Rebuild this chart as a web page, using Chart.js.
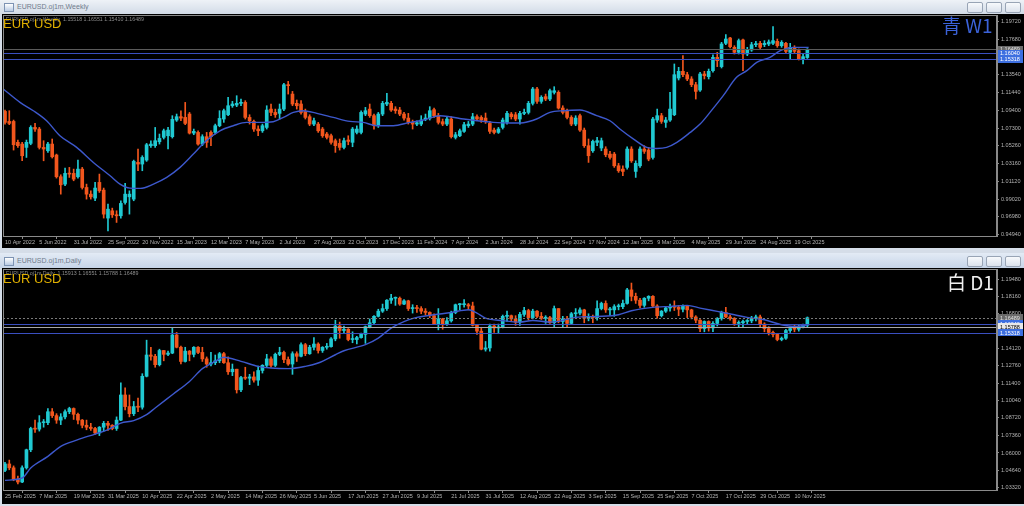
<!DOCTYPE html>
<html>
<head>
<meta charset="utf-8">
<script src="https://cdn.jsdelivr.net/npm/chart.js@4.4.1/dist/chart.umd.min.js"></script>
<style>
html, body { margin: 0; padding: 0; width: 1024px; height: 506px; overflow: hidden; background: #d5dde8; font-family: "Liberation Sans", Arial, sans-serif; }
.tbar { position: absolute; left: 0; width: 1024px; background: linear-gradient(#eef2f7, #d2dbe7); }
.tbar .ttl { position: absolute; left: 17px; font-size: 7px; color: #6f7b8c; }
.tbar .ico { position: absolute; left: 4px; width: 8px; height: 7px; border: 1px solid #7d93b3; background: linear-gradient(#ffffff, #b9cbe4); }
.btn { position: absolute; width: 14px; height: 9px; border: 1px solid #98a4b5; border-radius: 2px; background: linear-gradient(#f7f9fc, #dbe2ec); }
canvas { position: absolute; left: 2px; background: #000; }
.txt { position: absolute; white-space: nowrap; }
.hdr { font-size: 5.3px; color: #8c8c8c; }
.sym { font-size: 13px; color: #e0b000; }
.tf { font-size: 19px; font-family: "Noto Sans CJK JP", "Liberation Sans", sans-serif; }
</style>
</head>
<body>

<div class="tbar" style="top:0;height:14px">
  <div class="ico" style="top:3px"></div>
  <div class="ttl" style="top:3px">EURUSD.oj1m,Weekly</div>
  <div class="btn" style="left:967px;top:2px"></div>
  <div class="btn" style="left:986px;top:2px"></div>
  <div class="btn" style="left:1005px;top:2px"></div>
</div>
<canvas id="wk" width="1022" height="234" style="top:14px"></canvas>

<div class="tbar" style="top:253px;height:15px;background:linear-gradient(#e3ebf5,#c6d4e8)">
  <div class="ico" style="top:4px"></div>
  <div class="ttl" style="top:4px">EURUSD.oj1m,Daily</div>
  <div class="btn" style="left:967px;top:3px"></div>
  <div class="btn" style="left:986px;top:3px"></div>
  <div class="btn" style="left:1005px;top:3px"></div>
</div>
<canvas id="d1" width="1022" height="236" style="top:268px"></canvas>

<div class="txt hdr" style="left:6px;top:16px">EURUSD.oj1m,Weekly&nbsp;&nbsp;1.15518 1.16551 1.15410 1.16489</div>
<div class="txt sym" style="left:3px;top:16px">EUR USD</div>
<div class="txt tf" style="left:942px;top:11px;color:#3b62d8">青 W1</div>

<div class="txt hdr" style="left:6px;top:270px">EURUSD.oj1m,Daily&nbsp;&nbsp;1.15913 1.16551 1.15788 1.16489</div>
<div class="txt sym" style="left:3px;top:271px">EUR USD</div>
<div class="txt tf" style="left:947px;top:268px;color:#f0f0f0">白 D1</div>

<script>
/* -----------------------------
   WEEKLY DATA
----------------------------- */
const wkDates = ["10 Apr 2022", "5 Jun 2022", "31 Jul 2022", "25 Sep 2022", "20 Nov 2022", "15 Jan 2023",
    "12 Mar 2023", "7 May 2023", "2 Jul 2023", "27 Aug 2023", "22 Oct 2023", "17 Dec 2023",
    "11 Feb 2024", "7 Apr 2024", "2 Jun 2024", "28 Jul 2024", "22 Sep 2024", "17 Nov 2024",
    "12 Jan 2025", "9 Mar 2025", "4 May 2025", "29 Jun 2025", "24 Aug 2025", "19 Oct 2025"];
const wkDateIdx = [0, 8, 16, 24, 32, 40, 48, 56, 64, 72, 80, 88, 96, 104, 112, 120, 128, 136, 144, 152, 160, 168, 176, 184];

const wkOpen = [1.0924, 1.0807, 1.0807, 1.0563, 1.0543, 1.0504, 1.0551, 1.0737, 1.0718, 1.0504,
    1.0465, 1.0543, 1.0415, 1.0162, 1.0076, 1.0201, 1.0201, 1.0162, 1.0251, 1.0037,
    0.9959, 0.9913, 1.0096, 1.0006, 0.9680, 0.9765, 0.9718, 0.9707, 0.9862, 0.9928,
    0.9901, 1.0329, 1.0310, 1.0356, 1.0524, 1.0524, 1.0570, 1.0621, 1.0640, 1.0629,
    1.0823, 1.0862, 1.0854, 1.0893, 1.0671, 1.0679, 1.0543, 1.0629, 1.0679, 1.0679,
    1.0757, 1.0835, 1.0885, 1.0990, 1.0998, 1.1018, 1.1029, 1.0854, 1.0807, 1.0718,
    1.0698, 1.0737, 1.0951, 1.0912, 1.0901, 1.0951, 1.1235, 1.1126, 1.1018, 1.1010,
    1.0924, 1.0862, 1.0776, 1.0776, 1.0718, 1.0660, 1.0640, 1.0582, 1.0551, 1.0504,
    1.0590, 1.0563, 1.0679, 1.0679, 1.0893, 1.0951, 1.0874, 1.0757, 1.0893, 1.1010,
    1.1018, 1.0951, 1.0940, 1.0893, 1.0846, 1.0796, 1.0776, 1.0776, 1.0835, 1.0846,
    1.0944, 1.0874, 1.0804, 1.0776, 1.0835, 1.0621, 1.0640, 1.0691, 1.0757, 1.0776,
    1.0862, 1.0854, 1.0846, 1.0784, 1.0706, 1.0679, 1.0737, 1.0796, 1.0893, 1.0885,
    1.0835, 1.0901, 1.0912, 1.1018, 1.1185, 1.1041, 1.1096, 1.1068, 1.1146, 1.1146,
    1.0963, 1.0932, 1.0854, 1.0776, 1.0874, 1.0706, 1.0524, 1.0465, 1.0563, 1.0497,
    1.0485, 1.0426, 1.0426, 1.0290, 1.0251, 1.0271, 1.0485, 1.0224, 1.0290, 1.0485,
    1.0473, 1.0387, 1.0823, 1.0874, 1.0796, 1.0823, 1.0885, 1.1313, 1.1391, 1.1352,
    1.1302, 1.1235, 1.1173, 1.1360, 1.1329, 1.1399, 1.1554, 1.1446, 1.1718, 1.1780,
    1.1671, 1.1613, 1.1757, 1.1593, 1.1640, 1.1702, 1.1718, 1.1702, 1.1710, 1.1718,
    1.1741, 1.1690, 1.1718, 1.1613, 1.1671, 1.1632, 1.1535, 1.1552];
const wkHigh = [1.0940, 1.0932, 1.0823, 1.0590, 1.0563, 1.0590, 1.0757, 1.0784, 1.0737, 1.0582,
    1.0563, 1.0602, 1.0426, 1.0185, 1.0263, 1.0271, 1.0251, 1.0356, 1.0271, 1.0076,
    0.9998, 1.0096, 1.0193, 1.0030, 0.9843, 0.9796, 0.9765, 0.9882, 1.0084, 0.9998,
    1.0356, 1.0485, 1.0407, 1.0551, 1.0582, 1.0737, 1.0660, 1.0718, 1.0737, 1.0874,
    1.0893, 1.0932, 1.1029, 1.0912, 1.0718, 1.0698, 1.0652, 1.0679, 1.0698, 1.0776,
    1.0932, 1.0951, 1.1088, 1.1041, 1.1107, 1.1068, 1.1049, 1.0885, 1.0823, 1.0757,
    1.0776, 1.0990, 1.1010, 1.0951, 1.1010, 1.1251, 1.1274, 1.1157, 1.1057, 1.1049,
    1.0951, 1.0885, 1.0846, 1.0796, 1.0737, 1.0679, 1.0660, 1.0602, 1.0602, 1.0613,
    1.0640, 1.0737, 1.0757, 1.0932, 1.0971, 1.1010, 1.0893, 1.0912, 1.1041, 1.1134,
    1.1041, 1.0979, 1.0971, 1.0912, 1.0901, 1.0823, 1.0815, 1.0874, 1.0893, 1.0979,
    1.0963, 1.0901, 1.0835, 1.0854, 1.0862, 1.0679, 1.0718, 1.0796, 1.0807, 1.0901,
    1.0885, 1.0874, 1.0905, 1.0807, 1.0730, 1.0737, 1.0846, 1.0924, 1.0912, 1.0912,
    1.0924, 1.0951, 1.1041, 1.1204, 1.1204, 1.1107, 1.1126, 1.1185, 1.1212, 1.1165,
    1.0990, 1.0951, 1.0874, 1.0874, 1.0893, 1.0730, 1.0602, 1.0590, 1.0621, 1.0613,
    1.0512, 1.0458, 1.0446, 1.0318, 1.0290, 1.0512, 1.0512, 1.0348, 1.0512, 1.0524,
    1.0504, 1.0854, 1.0951, 1.0901, 1.0854, 1.1146, 1.1477, 1.1438, 1.1574, 1.1380,
    1.1329, 1.1263, 1.1380, 1.1391, 1.1418, 1.1585, 1.1613, 1.1729, 1.1819, 1.1788,
    1.1690, 1.1768, 1.1768, 1.1671, 1.1729, 1.1741, 1.1741, 1.1749, 1.1757, 1.1912,
    1.1768, 1.1749, 1.1729, 1.1718, 1.1690, 1.1652, 1.1593, 1.1655];
const wkLow = [1.0776, 1.0769, 1.0473, 1.0504, 1.0348, 1.0387, 1.0535, 1.0691, 1.0485, 1.0348,
    1.0446, 1.0380, 1.0146, 0.9959, 1.0057, 1.0154, 1.0115, 1.0146, 1.0018, 0.9901,
    0.9901, 0.9882, 0.9979, 0.9680, 0.9531, 0.9687, 0.9629, 0.9680, 0.9843, 0.9726,
    0.9882, 1.0232, 1.0232, 1.0341, 1.0504, 1.0504, 1.0543, 1.0602, 1.0485, 1.0613,
    1.0807, 1.0815, 1.0769, 1.0660, 1.0652, 1.0531, 1.0524, 1.0504, 1.0524, 1.0660,
    1.0745, 1.0796, 1.0874, 1.0971, 1.0979, 1.0990, 1.0835, 1.0776, 1.0691, 1.0640,
    1.0679, 1.0718, 1.0874, 1.0854, 1.0835, 1.0932, 1.1126, 1.0990, 1.0951, 1.0893,
    1.0835, 1.0757, 1.0757, 1.0679, 1.0621, 1.0602, 1.0543, 1.0446, 1.0473, 1.0485,
    1.0535, 1.0512, 1.0660, 1.0660, 1.0874, 1.0854, 1.0718, 1.0737, 1.0874, 1.0990,
    1.0924, 1.0901, 1.0874, 1.0823, 1.0776, 1.0718, 1.0757, 1.0757, 1.0815, 1.0823,
    1.0854, 1.0776, 1.0757, 1.0757, 1.0613, 1.0602, 1.0629, 1.0679, 1.0737, 1.0757,
    1.0815, 1.0796, 1.0784, 1.0667, 1.0660, 1.0667, 1.0718, 1.0776, 1.0835, 1.0815,
    1.0776, 1.0885, 1.0893, 1.0998, 1.1018, 1.1018, 1.1049, 1.1049, 1.1126, 1.0951,
    1.0893, 1.0835, 1.0757, 1.0757, 1.0691, 1.0504, 1.0329, 1.0446, 1.0524, 1.0465,
    1.0395, 1.0368, 1.0271, 1.0213, 1.0174, 1.0251, 1.0329, 1.0154, 1.0271, 1.0434,
    1.0348, 1.0368, 1.0796, 1.0784, 1.0737, 1.0807, 1.0874, 1.1290, 1.1329, 1.1282,
    1.1212, 1.1068, 1.1157, 1.1302, 1.1302, 1.1380, 1.1446, 1.1430, 1.1702, 1.1663,
    1.1593, 1.1593, 1.1399, 1.1574, 1.1624, 1.1679, 1.1652, 1.1679, 1.1690, 1.1702,
    1.1671, 1.1671, 1.1601, 1.1535, 1.1601, 1.1523, 1.1477, 1.1541];
const wkClose = [1.0796, 1.0784, 1.0535, 1.0524, 1.0407, 1.0563, 1.0737, 1.0718, 1.0504, 1.0485,
    1.0543, 1.0395, 1.0162, 1.0068, 1.0201, 1.0193, 1.0134, 1.0251, 1.0037, 0.9959,
    0.9928, 1.0030, 0.9998, 0.9726, 0.9784, 0.9718, 0.9707, 0.9851, 0.9959, 0.9959,
    1.0341, 1.0310, 1.0387, 1.0535, 1.0543, 1.0582, 1.0609, 1.0698, 1.0706, 1.0831,
    1.0862, 1.0846, 1.0784, 1.0671, 1.0691, 1.0543, 1.0629, 1.0563, 1.0629, 1.0757,
    1.0842, 1.0932, 1.0990, 1.1010, 1.1018, 1.1025, 1.0854, 1.0815, 1.0718, 1.0698,
    1.0757, 1.0940, 1.0912, 1.0885, 1.0951, 1.1235, 1.1224, 1.1010, 1.0990, 1.0912,
    1.0854, 1.0776, 1.0815, 1.0698, 1.0640, 1.0621, 1.0563, 1.0524, 1.0504, 1.0582,
    1.0574, 1.0718, 1.0718, 1.0912, 1.0932, 1.0874, 1.0757, 1.0893, 1.1018, 1.1029,
    1.0940, 1.0932, 1.0893, 1.0846, 1.0796, 1.0776, 1.0792, 1.0823, 1.0846, 1.0932,
    1.0874, 1.0796, 1.0776, 1.0835, 1.0629, 1.0652, 1.0698, 1.0769, 1.0776, 1.0862,
    1.0835, 1.0823, 1.0807, 1.0691, 1.0679, 1.0718, 1.0823, 1.0901, 1.0862, 1.0835,
    1.0901, 1.0912, 1.1018, 1.1185, 1.1041, 1.1088, 1.1068, 1.1165, 1.1165, 1.0963,
    1.0912, 1.0854, 1.0776, 1.0846, 1.0706, 1.0524, 1.0407, 1.0574, 1.0582, 1.0582,
    1.0418, 1.0387, 1.0290, 1.0232, 1.0224, 1.0485, 1.0348, 1.0318, 1.0485, 1.0458,
    1.0368, 1.0835, 1.0874, 1.0807, 1.0823, 1.0951, 1.1352, 1.1391, 1.1352, 1.1302,
    1.1235, 1.1157, 1.1360, 1.1340, 1.1391, 1.1554, 1.1515, 1.1710, 1.1768, 1.1679,
    1.1613, 1.1749, 1.1593, 1.1640, 1.1702, 1.1710, 1.1671, 1.1718, 1.1733, 1.1749,
    1.1690, 1.1729, 1.1624, 1.1671, 1.1624, 1.1535, 1.1562, 1.1649];

const wkMaIdx = [-0.4, 3.5, 6.6, 9.7, 12.8, 16.7, 20.6, 24.5, 26.8, 29.1, 31.5, 34.6, 37.7, 40.8, 43.9,
    46.9, 50.1, 53.2, 56.3, 59.4, 62.5, 64.9, 67.2, 69.5, 72.7, 76.5, 80.4, 83.5, 86.6, 90.5, 94.4,
    97.5, 101.4, 103.7, 106.9, 110.0, 113.8, 117.7, 120.8, 123.9, 127.0, 130.1, 134.0, 137.9, 141.0,
    143.3, 146.5, 149.6, 151.9, 154.2, 156.6, 159.7, 162.0, 164.3, 167.4, 170.5, 172.9, 175.2, 178.3,
    180.7, 183.8, 187.3];
const wkMaVal = [1.1185, 1.1029, 1.0932, 1.0815, 1.0640, 1.0504, 1.0329, 1.0173, 1.0076, 1.0029, 1.0026,
    1.0076, 1.0154, 1.0271, 1.0426, 1.0582, 1.0698, 1.0757, 1.0796, 1.0796, 1.0804, 1.0854, 1.0912,
    1.0932, 1.0901, 1.0854, 1.0807, 1.0796, 1.0757, 1.0757, 1.0796,
    1.0823, 1.0874, 1.0862, 1.0835, 1.0815, 1.0796, 1.0788, 1.0792, 1.0835, 1.0912, 1.0932, 1.0940,
    1.0874, 1.0815, 1.0718, 1.0601, 1.0504, 1.0492, 1.0504, 1.0563, 1.0679, 1.0776, 1.0912, 1.1107,
    1.1321, 1.1399, 1.1496, 1.1554, 1.1632, 1.1671, 1.1671];

const wkTicks = [1.1972, 1.1768, 1.1558, 1.1354, 1.1144, 1.0940, 1.0730, 1.0526, 1.0316, 1.0112, 0.9902, 0.9698, 0.9494];
const wkLevels = [1.16489, 1.16040, 1.15318];

/* -----------------------------
   DAILY DATA
----------------------------- */
const d1Dates = ["25 Feb 2025", "7 Mar 2025", "19 Mar 2025", "31 Mar 2025", "10 Apr 2025", "22 Apr 2025",
    "2 May 2025", "14 May 2025", "26 May 2025", "5 Jun 2025", "17 Jun 2025", "27 Jun 2025",
    "9 Jul 2025", "21 Jul 2025", "31 Jul 2025", "12 Aug 2025", "22 Aug 2025", "3 Sep 2025",
    "15 Sep 2025", "25 Sep 2025", "7 Oct 2025", "17 Oct 2025", "29 Oct 2025", "10 Nov 2025"];
const d1DateIdx = [0, 8, 16, 24, 32, 40, 48, 56, 64, 72, 80, 88, 96, 104, 112, 120, 128, 136, 144, 152, 160, 168, 176, 184];

const d1Open = [1.0465, 1.0515, 1.0485, 1.0397, 1.0375, 1.0485, 1.0625, 1.0790, 1.0785, 1.0835,
    1.0835, 1.0920, 1.0890, 1.0855, 1.0880, 1.0920, 1.0945, 1.0900, 1.0855, 1.0815,
    1.0800, 1.0790, 1.0755, 1.0800, 1.0830, 1.0815, 1.0790, 1.0855, 1.1050, 1.0960,
    1.0905, 1.0960, 1.0955, 1.1195, 1.1360, 1.1350, 1.1285, 1.1395, 1.1365, 1.1375,
    1.1515, 1.1420, 1.1310, 1.1390, 1.1365, 1.1420, 1.1380, 1.1330, 1.1290, 1.1300,
    1.1315, 1.1370, 1.1300, 1.1230, 1.1250, 1.1090, 1.1185, 1.1180, 1.1190, 1.1165,
    1.1240, 1.1280, 1.1330, 1.1280, 1.1365, 1.1380, 1.1325, 1.1290, 1.1370, 1.1350,
    1.1440, 1.1370, 1.1420, 1.1445, 1.1395, 1.1420, 1.1425, 1.1485, 1.1585, 1.1550,
    1.1560, 1.1480, 1.1480, 1.1495, 1.1520, 1.1580, 1.1610, 1.1660, 1.1700, 1.1720,
    1.1785, 1.1800, 1.1800, 1.1755, 1.1780, 1.1720, 1.1725, 1.1720, 1.1700, 1.1690,
    1.1665, 1.1600, 1.1640, 1.1595, 1.1625, 1.1690, 1.1750, 1.1750, 1.1750, 1.1740,
    1.1590, 1.1545, 1.1405, 1.1415, 1.1585, 1.1570, 1.1575, 1.1660, 1.1665, 1.1640,
    1.1615, 1.1675, 1.1705, 1.1650, 1.1700, 1.1660, 1.1645, 1.1650, 1.1610, 1.1720,
    1.1620, 1.1640, 1.1605, 1.1680, 1.1685, 1.1710, 1.1645, 1.1660, 1.1650, 1.1720,
    1.1760, 1.1710, 1.1710, 1.1735, 1.1735, 1.1760, 1.1865, 1.1815, 1.1785, 1.1745,
    1.1800, 1.1815, 1.1740, 1.1665, 1.1700, 1.1725, 1.1735, 1.1730, 1.1715, 1.1740,
    1.1710, 1.1655, 1.1630, 1.1565, 1.1620, 1.1570, 1.1605, 1.1645, 1.1690, 1.1655,
    1.1645, 1.1605, 1.1610, 1.1620, 1.1625, 1.1645, 1.1655, 1.1600, 1.1565, 1.1535,
    1.1520, 1.1480, 1.1490, 1.1550, 1.1565, 1.1560, 1.1580, 1.1591];
const d1High = [1.0528, 1.0545, 1.0500, 1.0420, 1.0500, 1.0630, 1.0800, 1.0855, 1.0890, 1.0860,
    1.0945, 1.0945, 1.0905, 1.0905, 1.0935, 1.0955, 1.0950, 1.0910, 1.0860, 1.0855,
    1.0830, 1.0800, 1.0805, 1.0845, 1.0845, 1.0820, 1.0880, 1.1145, 1.1105, 1.1050,
    1.1000, 1.1025, 1.1215, 1.1475, 1.1420, 1.1365, 1.1405, 1.1395, 1.1390, 1.1573,
    1.1535, 1.1430, 1.1420, 1.1395, 1.1425, 1.1425, 1.1420, 1.1345, 1.1380, 1.1360,
    1.1380, 1.1380, 1.1345, 1.1290, 1.1250, 1.1195, 1.1265, 1.1210, 1.1230, 1.1275,
    1.1285, 1.1365, 1.1345, 1.1375, 1.1420, 1.1390, 1.1345, 1.1385, 1.1385, 1.1455,
    1.1450, 1.1435, 1.1495, 1.1455, 1.1425, 1.1450, 1.1495, 1.1630, 1.1615, 1.1585,
    1.1565, 1.1540, 1.1505, 1.1530, 1.1585, 1.1640, 1.1665, 1.1715, 1.1755, 1.1790,
    1.1830, 1.1810, 1.1810, 1.1790, 1.1785, 1.1750, 1.1745, 1.1735, 1.1720, 1.1695,
    1.1680, 1.1720, 1.1645, 1.1650, 1.1700, 1.1755, 1.1760, 1.1790, 1.1760, 1.1770,
    1.1595, 1.1575, 1.1465, 1.1600, 1.1600, 1.1600, 1.1670, 1.1700, 1.1670, 1.1665,
    1.1690, 1.1730, 1.1715, 1.1715, 1.1705, 1.1690, 1.1665, 1.1660, 1.1740, 1.1720,
    1.1660, 1.1660, 1.1690, 1.1720, 1.1725, 1.1715, 1.1680, 1.1670, 1.1780, 1.1770,
    1.1780, 1.1730, 1.1750, 1.1755, 1.1785, 1.1878, 1.1918, 1.1840, 1.1800, 1.1805,
    1.1820, 1.1820, 1.1750, 1.1705, 1.1735, 1.1755, 1.1780, 1.1745, 1.1750, 1.1745,
    1.1715, 1.1665, 1.1635, 1.1625, 1.1625, 1.1620, 1.1650, 1.1700, 1.1730, 1.1670,
    1.1650, 1.1625, 1.1630, 1.1635, 1.1660, 1.1670, 1.1670, 1.1610, 1.1580, 1.1545,
    1.1525, 1.1500, 1.1560, 1.1580, 1.1590, 1.1590, 1.1600, 1.1655];
const d1Low = [1.0455, 1.0470, 1.0385, 1.0360, 1.0370, 1.0475, 1.0610, 1.0760, 1.0770, 1.0800,
    1.0820, 1.0875, 1.0830, 1.0820, 1.0865, 1.0905, 1.0860, 1.0825, 1.0795, 1.0780,
    1.0775, 1.0745, 1.0735, 1.0770, 1.0775, 1.0780, 1.0775, 1.0850, 1.0935, 1.0880,
    1.0890, 1.0920, 1.0940, 1.1190, 1.1320, 1.1265, 1.1275, 1.1315, 1.1355, 1.1370,
    1.1415, 1.1290, 1.1305, 1.1315, 1.1345, 1.1370, 1.1310, 1.1265, 1.1275, 1.1285,
    1.1300, 1.1295, 1.1210, 1.1200, 1.1065, 1.1075, 1.1170, 1.1130, 1.1150, 1.1125,
    1.1220, 1.1270, 1.1265, 1.1270, 1.1355, 1.1300, 1.1280, 1.1210, 1.1310, 1.1345,
    1.1355, 1.1365, 1.1400, 1.1375, 1.1380, 1.1405, 1.1420, 1.1470, 1.1490, 1.1530,
    1.1470, 1.1455, 1.1445, 1.1490, 1.1450, 1.1570, 1.1595, 1.1655, 1.1690, 1.1705,
    1.1760, 1.1745, 1.1745, 1.1750, 1.1705, 1.1685, 1.1690, 1.1680, 1.1670, 1.1650,
    1.1595, 1.1555, 1.1560, 1.1590, 1.1615, 1.1680, 1.1710, 1.1730, 1.1710, 1.1585,
    1.1520, 1.1400, 1.1390, 1.1390, 1.1535, 1.1525, 1.1570, 1.1620, 1.1620, 1.1590,
    1.1590, 1.1660, 1.1630, 1.1640, 1.1650, 1.1635, 1.1605, 1.1605, 1.1580, 1.1610,
    1.1575, 1.1575, 1.1595, 1.1655, 1.1670, 1.1610, 1.1625, 1.1610, 1.1630, 1.1710,
    1.1690, 1.1665, 1.1660, 1.1710, 1.1720, 1.1755, 1.1780, 1.1760, 1.1725, 1.1730,
    1.1780, 1.1730, 1.1645, 1.1655, 1.1690, 1.1700, 1.1705, 1.1665, 1.1695, 1.1650,
    1.1640, 1.1610, 1.1540, 1.1540, 1.1545, 1.1540, 1.1585, 1.1630, 1.1650, 1.1630,
    1.1590, 1.1575, 1.1580, 1.1600, 1.1610, 1.1625, 1.1580, 1.1540, 1.1515, 1.1500,
    1.1470, 1.1470, 1.1480, 1.1535, 1.1540, 1.1545, 1.1570, 1.1579];
const d1Close = [1.0515, 1.0485, 1.0397, 1.0375, 1.0485, 1.0625, 1.0790, 1.0785, 1.0835, 1.0835,
    1.0920, 1.0890, 1.0855, 1.0880, 1.0920, 1.0945, 1.0900, 1.0855, 1.0815, 1.0800,
    1.0790, 1.0755, 1.0800, 1.0830, 1.0815, 1.0790, 1.0855, 1.1050, 1.0960, 1.0905,
    1.0960, 1.0955, 1.1195, 1.1360, 1.1350, 1.1285, 1.1395, 1.1365, 1.1375, 1.1515,
    1.1420, 1.1310, 1.1390, 1.1365, 1.1420, 1.1380, 1.1330, 1.1290, 1.1300, 1.1315,
    1.1370, 1.1300, 1.1230, 1.1250, 1.1090, 1.1185, 1.1180, 1.1190, 1.1165, 1.1240,
    1.1280, 1.1330, 1.1280, 1.1365, 1.1380, 1.1325, 1.1290, 1.1370, 1.1350, 1.1440,
    1.1370, 1.1420, 1.1445, 1.1395, 1.1420, 1.1425, 1.1485, 1.1585, 1.1550, 1.1560,
    1.1480, 1.1480, 1.1495, 1.1520, 1.1580, 1.1610, 1.1660, 1.1700, 1.1720, 1.1785,
    1.1800, 1.1800, 1.1755, 1.1780, 1.1720, 1.1725, 1.1720, 1.1700, 1.1690, 1.1665,
    1.1600, 1.1640, 1.1595, 1.1625, 1.1690, 1.1750, 1.1750, 1.1750, 1.1740, 1.1590,
    1.1545, 1.1405, 1.1415, 1.1585, 1.1570, 1.1575, 1.1660, 1.1665, 1.1640, 1.1615,
    1.1675, 1.1705, 1.1650, 1.1700, 1.1660, 1.1645, 1.1650, 1.1610, 1.1720, 1.1620,
    1.1640, 1.1605, 1.1680, 1.1685, 1.1710, 1.1645, 1.1660, 1.1650, 1.1720, 1.1760,
    1.1710, 1.1710, 1.1735, 1.1735, 1.1760, 1.1865, 1.1815, 1.1785, 1.1745, 1.1800,
    1.1815, 1.1740, 1.1665, 1.1700, 1.1725, 1.1735, 1.1730, 1.1715, 1.1740, 1.1710,
    1.1655, 1.1630, 1.1565, 1.1620, 1.1570, 1.1605, 1.1645, 1.1690, 1.1655, 1.1645,
    1.1605, 1.1610, 1.1620, 1.1625, 1.1645, 1.1655, 1.1600, 1.1565, 1.1535, 1.1520,
    1.1480, 1.1490, 1.1550, 1.1565, 1.1560, 1.1580, 1.1591, 1.1649];

const d1MaIdx = [0, 4, 6, 10, 13, 17, 21, 24, 27, 30, 33, 35, 39, 43, 46, 49, 51, 55, 59, 62,
    66, 70, 73, 77, 79, 84, 87, 90, 94, 96, 100, 104, 108, 110, 112, 116, 120, 123, 127, 129,
    133, 138, 143, 146, 151, 155, 159, 162, 166, 170, 173, 177, 181, 184, 187];
const d1MaVal = [1.0388, 1.0406, 1.0484, 1.0574, 1.0652, 1.0703, 1.0747, 1.0781, 1.0832, 1.0851,
    1.0897, 1.0949, 1.1052, 1.1155, 1.1254, 1.1311, 1.1342, 1.1311, 1.1272, 1.1259,
    1.1254, 1.1272, 1.1298, 1.1362, 1.1393, 1.1440, 1.1491, 1.1569, 1.1633, 1.1652,
    1.1672, 1.1690, 1.1711, 1.1685, 1.1646, 1.1626, 1.1615, 1.1628, 1.1615, 1.1621,
    1.1652, 1.1659, 1.1672, 1.1703, 1.1729, 1.1737, 1.1745, 1.1724, 1.1698, 1.1672,
    1.1652, 1.1633, 1.1595, 1.1582, 1.1590];

const d1Ticks = [1.1948, 1.1816, 1.1680, 1.1544, 1.1412, 1.1276, 1.1140, 1.1004, 1.0872, 1.0736, 1.0600, 1.0464, 1.0332];
const d1Levels = [1.16489, 1.16040, 1.15788, 1.15318];

/* -----------------------------
   ESTILO
----------------------------- */
const UP = "#20c9d2";
const DOWN = "#f2561d";
const MA_COLOR = "#3d58cc";
const AXIS = "#8a8a8a";
const FONT = "Liberation Sans";

// lineas horizontales y cajas de precio del eje
const overlay = {
    id: "overlay",
    afterDatasetsDraw(chart, args, o) {
        const { ctx, chartArea: a } = chart;
        const y = chart.scales.y;
        ctx.save();
        o.levels.forEach((v, k) => {
            const py = Math.round(y.getPixelForValue(v)) + 0.5;
            ctx.strokeStyle = o.lineColors[k];
            ctx.setLineDash(o.dashed[k] ? [2, 2] : []);
            ctx.lineWidth = 1;
            ctx.beginPath();
            ctx.moveTo(a.left, py);
            ctx.lineTo(a.right, py);
            ctx.stroke();
        });
        ctx.setLineDash([]);
        ctx.strokeStyle = AXIS;
        ctx.strokeRect(a.left + 0.5, a.top + 0.5, a.right - a.left - 1, a.bottom - a.top);
        ctx.font = "5.5px " + FONT;
        ctx.textBaseline = "middle";
        o.levels.forEach((v, k) => {
            const py = y.getPixelForValue(v);
            ctx.fillStyle = o.boxColors[k];
            ctx.fillRect(a.right + 1, Math.round(py - 3.5), 25, 7);
            ctx.fillStyle = o.textColors[k];
            ctx.fillText(v.toFixed(5), a.right + 3, py + 0.5);
        });
        ctx.restore();
    }
};

// quitar el relleno que Chart.js reserva para las etiquetas extremas
function sinRelleno(s) {
    s.paddingTop = 0;
    s.paddingBottom = 0;
    s.paddingLeft = 0;
    s.paddingRight = 0;
}

function crearGrafica(id, cfg) {
    const colores = cfg.close.map((c, i) => c >= cfg.open[i] ? UP : DOWN);
    return new Chart(document.getElementById(id), {
        type: "bar",
        data: {
            datasets: [
                {
                    type: "line",
                    data: cfg.maIdx.map((x, k) => ({ x: x, y: cfg.maVal[k] })),
                    borderColor: MA_COLOR,
                    borderWidth: 1.4,
                    pointRadius: 0,
                    cubicInterpolationMode: "monotone",
                    order: 1
                },
                {
                    data: cfg.open.map((o, i) => ({ x: i, y: [o, cfg.close[i]] })),
                    backgroundColor: colores,
                    barThickness: 3,
                    minBarLength: 1,
                    grouped: false,
                    order: 2
                },
                {
                    data: cfg.high.map((h, i) => ({ x: i, y: [cfg.low[i], h] })),
                    backgroundColor: colores,
                    barThickness: 1,
                    grouped: false,
                    order: 3
                }
            ]
        },
        options: {
            responsive: false,
            animation: false,
            devicePixelRatio: 1,
            layout: { padding: { left: 1, top: 1, right: 0, bottom: 0 } },
            plugins: {
                legend: { display: false },
                tooltip: { enabled: false },
                overlay: cfg.overlay
            },
            scales: {
                x: {
                    type: "linear",
                    min: -0.466,
                    max: 231.2,
                    offset: false,
                    afterBuildTicks: (s) => { s.ticks = cfg.dateIdx.map(v => ({ value: v })); },
                    afterFit: (s) => { s.height = cfg.xAxisH; sinRelleno(s); },
                    ticks: {
                        callback: (v, i) => cfg.dates[i],
                        align: "start",
                        autoSkip: false,
                        maxRotation: 0,
                        color: "#b4b4b4",
                        font: { size: 5.5, family: FONT },
                        padding: 0
                    },
                    grid: { drawOnChartArea: false, drawTicks: true, tickLength: 3, color: AXIS },
                    border: { color: AXIS }
                },
                y: {
                    position: "right",
                    min: cfg.yMin,
                    max: cfg.yMax,
                    afterBuildTicks: (s) => {
                        s.ticks = cfg.ticks.filter(v => v >= s.min && v <= s.max).map(v => ({ value: v }));
                    },
                    afterFit: (s) => { s.width = 27; sinRelleno(s); },
                    ticks: {
                        callback: (v) => v.toFixed(5),
                        color: "#b4b4b4",
                        font: { size: 5.5, family: FONT },
                        padding: 2
                    },
                    grid: { drawOnChartArea: false, drawTicks: true, tickLength: 2, color: AXIS },
                    border: { color: AXIS }
                }
            }
        },
        plugins: [overlay]
    });
}

crearGrafica("wk", {
    open: wkOpen, high: wkHigh, low: wkLow, close: wkClose,
    maIdx: wkMaIdx, maVal: wkMaVal,
    dates: wkDates, dateIdx: wkDateIdx, ticks: wkTicks,
    yMin: 0.9471, yMax: 1.2048, xAxisH: 12,
    overlay: {
        levels: wkLevels,
        lineColors: ["#5a5a5a", "#3a4fc0", "#3a4fc0"],
        dashed: [false, false, false],
        boxColors: ["#6a6a6a", "#3d6fe0", "#3d6fe0"],
        textColors: ["#e0e0e0", "#ffffff", "#ffffff"]
    }
});

crearGrafica("d1", {
    open: d1Open, high: d1High, low: d1Low, close: d1Close,
    maIdx: d1MaIdx, maVal: d1MaVal,
    dates: d1Dates, dateIdx: d1DateIdx, ticks: d1Ticks,
    yMin: 1.0313, yMax: 1.2027, xAxisH: 14,
    overlay: {
        levels: d1Levels,
        lineColors: ["#7a7a7a", "#3a4fc0", "#a8a8a8", "#3a4fc0"],
        dashed: [true, false, false, false],
        boxColors: ["#6a6a6a", "#3d6fe0", "#e8e8e8", "#3d6fe0"],
        textColors: ["#e0e0e0", "#ffffff", "#000000", "#ffffff"]
    }
});
</script>
</body>
</html>
